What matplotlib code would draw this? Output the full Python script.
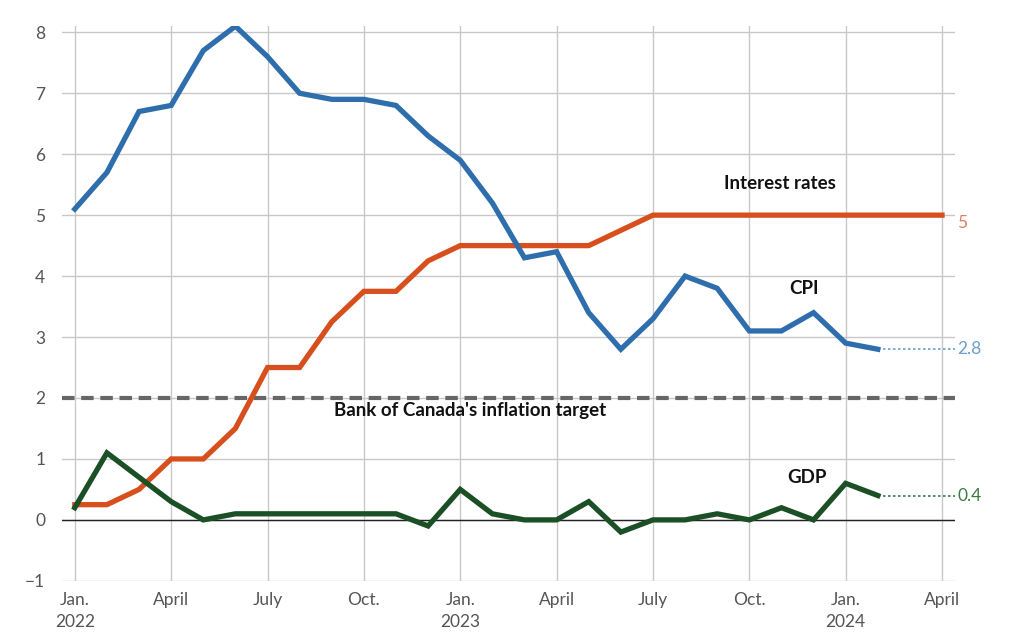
import matplotlib
matplotlib.use("Agg")
import matplotlib.pyplot as plt
import numpy as np

# Months from Jan 2022 (index 0) to Apr 2024 (index 27)
cpi = [5.1, 5.7, 6.7, 6.8, 7.7, 8.1, 7.6, 7.0, 6.9, 6.9, 6.8, 6.3,
       5.9, 5.2, 4.3, 4.4, 3.4, 2.8, 3.3, 4.0, 3.8, 3.1, 3.1, 3.4,
       2.9, 2.8]
rates = [0.25, 0.25, 0.5, 1.0, 1.0, 1.5, 2.5, 2.5, 3.25, 3.75, 3.75, 4.25,
         4.5, 4.5, 4.5, 4.5, 4.5, 4.75, 5.0, 5.0, 5.0, 5.0, 5.0, 5.0,
         5.0, 5.0, 5.0, 5.0]
gdp = [0.2, 1.1, 0.7, 0.3, 0.0, 0.1, 0.1, 0.1, 0.1, 0.1, 0.1, -0.1,
       0.5, 0.1, 0.0, 0.0, 0.3, -0.2, 0.0, 0.0, 0.1, 0.0, 0.2, 0.0,
       0.6, 0.4]
target = 2
tick_pos = [0, 3, 6, 9, 12, 15, 18, 21, 24, 27]
tick_labels = ["Jan.\n2022", "April", "July", "Oct.", "Jan.\n2023", "April",
               "July", "Oct.", "Jan.\n2024", "April"]
yticks = [-1, 0, 1, 2, 3, 4, 5, 6, 7, 8]

C_CPI = "#2f6eac"
C_RATE = "#d64f1c"
C_GDP = "#1b4f26"

plt.rcParams['font.family'] = ['Lato', 'DejaVu Sans']

fig = plt.figure(figsize=(10.24, 6.39), dpi=100)
ax = fig.add_axes([0.0605, 0.091, 0.872, 0.868])
xmin, xmax = -0.4, 27.4
ax.set_xlim(xmin, xmax)
ax.set_ylim(-1.0, 8.1)

for s in ax.spines.values():
    s.set_visible(False)
ax.set_xticks(tick_pos)
ax.set_xticklabels(tick_labels, fontsize=12.5, color="#555555", linespacing=1.5)
ax.set_yticks(yticks)
ax.set_yticklabels([str(v) if v >= 0 else "\u22121" for v in yticks], fontsize=12.5, color="#555555")
ax.tick_params(length=0, pad=8)
ax.tick_params(axis='y', pad=12)
ax.grid(True, color="#c8c8c8", linewidth=1.0)
ax.set_axisbelow(True)
ax.axhline(0, color="#222222", linewidth=1.0, zorder=2)

ax.axhline(target, color="#666666", linewidth=3, linestyle=(0, (3, 1.6)), zorder=2)

x_cpi = np.arange(len(cpi))
x_rate = np.arange(len(rates))
x_gdp = np.arange(len(gdp))
ax.plot(x_rate, rates, color=C_RATE, linewidth=3.8, solid_joinstyle='miter', zorder=3)
ax.plot(x_cpi, cpi, color=C_CPI, linewidth=3.8, solid_joinstyle='miter', zorder=4)
ax.plot(x_gdp, gdp, color=C_GDP, linewidth=3.8, solid_joinstyle='miter', zorder=5)

# dotted extensions
ax.plot([x_cpi[-1], xmax], [cpi[-1], cpi[-1]], color="#6a9fd0", linewidth=1.2,
        linestyle=(0, (1.5, 1.5)), clip_on=False)
ax.plot([x_gdp[-1], xmax], [gdp[-1], gdp[-1]], color="#3a7a45", linewidth=1.2,
        linestyle=(0, (1.5, 1.5)), clip_on=False)

ax.text(xmax + 0.08, rates[-1], str(int(rates[-1])), color="#d98060", fontsize=12.5,
        va='top', ha='left')
ax.text(xmax + 0.08, cpi[-1], str(cpi[-1]), color="#6a9fd0", fontsize=12.5,
        va='center', ha='left')
ax.text(xmax + 0.08, gdp[-1], str(gdp[-1]), color="#3a7a45", fontsize=12.5,
        va='center', ha='left')

ax.text(21.95, 5.52, "Interest rates", fontsize=13.5, fontweight='bold', ha='center', va='center', color="#111111")
ax.text(22.7, 3.79, "CPI", fontsize=13.5, fontweight='bold', ha='center', va='center', color="#111111")
ax.text(22.8, 0.69, "GDP", fontsize=13.5, fontweight='bold', ha='center', va='center', color="#111111")
ax.text(12.3, 1.79, "Bank of Canada's inflation target", fontsize=13.5, fontweight='bold',
        ha='center', va='center', color="#111111")

fig.savefig("out.png", dpi=100, facecolor="white")
